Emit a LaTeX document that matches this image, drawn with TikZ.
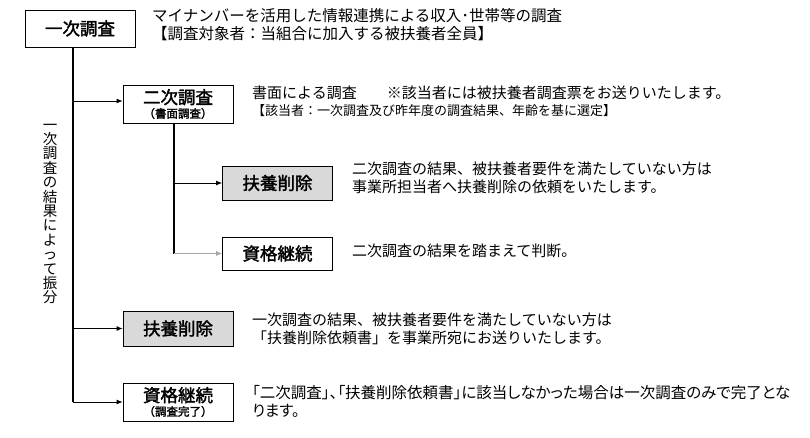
\documentclass[tikz,border=0pt]{standalone}
\usepackage{fontspec}
\setmainfont{Noto Sans CJK JP}
\newfontfamily\jpb{Noto Sans CJK JP}[FakeBold=2]
\newfontfamily\jpp{Noto Sans CJK JP}[RawFeature=+palt]
\usetikzlibrary{arrows.meta}
\begin{document}
\begin{tikzpicture}[x=1pt,y=-1pt,
  box/.style={draw,line width=0.8pt,minimum width=110pt,inner sep=0pt,font=\fontsize{17.5}{18}\selectfont\jpb},
  gbox/.style={box,fill=gray!30},
  desc/.style={anchor=north west,inner sep=0pt,align=left,font=\fontsize{15}{18}\selectfont},
  trunk/.style={line width=2pt},
  arr/.style={line width=0.8pt,-{Latex[length=6pt,width=5pt]}}]
\useasboundingbox (0,0) rectangle (810,438);
\node[box,minimum height=37pt] (a) at (80,28.5) {一次調査};
\node[box,minimum height=38pt,align=center] (b) at (178,104) {二次調査\\[-4pt]{\fontsize{11.5}{12}\selectfont（書面調査）}};
\node[gbox,minimum height=34pt] (c) at (277.5,183) {扶養削除};
\node[box,minimum height=33pt] (d) at (277.5,253.5) {資格継続};
\node[gbox,minimum height=35pt] (e) at (178,328.5) {扶養削除};
\node[box,minimum height=38pt,align=center] (f) at (178,402) {資格継続\\[-4pt]{\fontsize{11.5}{12}\selectfont（調査完了）}};
\coordinate (t1) at (73,47);
\coordinate (t2) at (73,402);
\coordinate (s1) at (174,123);
\coordinate (s2) at (174,253.5);
\draw[trunk] (t1) -- (t2);
\draw[trunk] (s1) -- (s2);
\draw[arr] (73,101) -- (b.west|-73,101);
\draw[arr] (73,328.5) -- (e.west);
\draw[arr] (t2) -- (f.west);
\draw[arr] (174,183) -- (c.west);
\draw[arr,draw=gray!70] (174,253.5) -- (d.west);
\node[align=center,inner sep=0pt,font=\fontsize{14.5}{14.4}\selectfont] (v) at (50,214) {一\\次\\調\\査\\の\\結\\果\\に\\よ\\っ\\て\\振\\分};
\node[desc,font=\fontsize{15.5}{18}\selectfont] (ta) at (152,8) {マイナンバーを活用した情報連携による収入･世帯等の調査\\【調査対象者：当組合に加入する被扶養者全員】};
\node[desc,font=\fontsize{15}{17}\selectfont] (tb) at (252,86) {書面による調査\qquad ※該当者には被扶養者調査票をお送りいたします。\\{\fontsize{13}{15}\selectfont【該当者：一次調査及び昨年度の調査結果、年齢を基に選定】}};
\node[desc] (tc) at (352,162) {二次調査の結果、被扶養者要件を満たしていない方は\\事業所担当者へ扶養削除の依頼をいたします。};
\node[desc] (td) at (352,244) {二次調査の結果を踏まえて判断。};
\node[desc] (te) at (252,313) {一次調査の結果、被扶養者要件を満たしていない方は\\「扶養削除依頼書」を事業所宛にお送りいたします。};
\node[desc,font=\fontsize{15.5}{18}\selectfont\jpp] (tf) at (252,385) {「二次調査」、「扶養削除依頼書」に該当しなかった場合は一次調査のみで完了とな\\ります。};
\end{tikzpicture}
\end{document}
